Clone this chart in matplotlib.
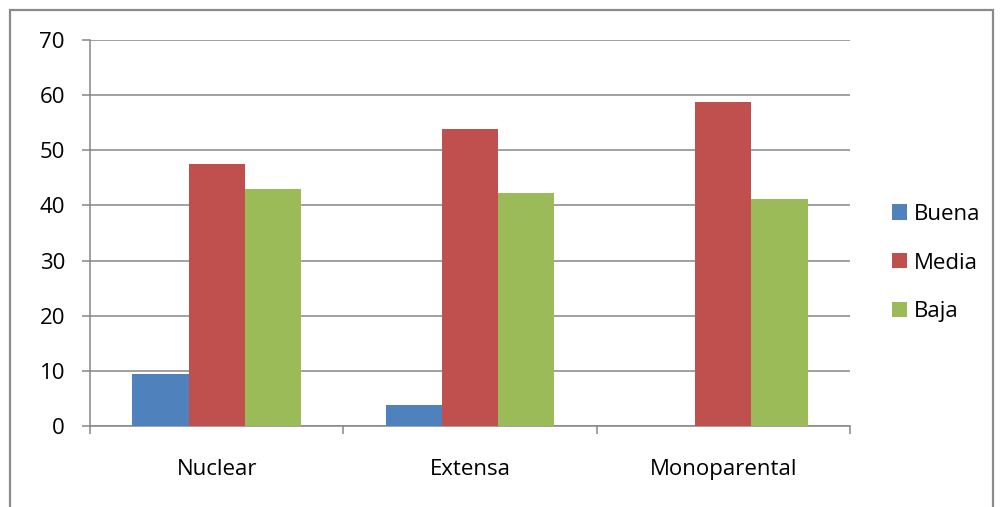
import numpy as np
import matplotlib.pyplot as plt
from matplotlib.patches import Rectangle

categories = ['Nuclear', 'Extensa', 'Monoparental']
series_names = ['Buena', 'Media', 'Baja']
buena = [9.5, 3.8, 0]
media = [47.6, 53.8, 58.8]
baja = [42.9, 42.3, 41.2]
colors = ['#4F81BD', '#C0504D', '#9BBB59']

plt.rcParams['font.family'] = ['Open Sans', 'DejaVu Sans']

fig = plt.figure(figsize=(10, 5.07), dpi=100)
ax = fig.add_axes([0.09, 0.1598, 0.76, 0.7613])

x = np.arange(len(categories))
w = 0.222
for i, (vals, name) in enumerate(zip([buena, media, baja], series_names)):
    ax.bar(x + (i - 1) * w, vals, w, color=colors[i], label=name, zorder=3)

ax.set_xlim(-0.5, 2.5)
ax.set_ylim(0, 70)
ax.set_yticks(range(0, 71, 10))
ax.yaxis.grid(True, color='#868686', linewidth=1.1, zorder=0)
ax.tick_params(axis='y', length=6, width=1.1, color='#868686', pad=12, labelsize=16)

ax.set_xticks(x)
ax.set_xticklabels(categories)
ax.tick_params(axis='x', which='major', length=0, pad=24, labelsize=16)
ax.set_xticks([-0.5, 0.5, 1.5, 2.5], minor=True)
ax.tick_params(axis='x', which='minor', length=6, width=1.1, color='#868686')

for s in ['top', 'right']:
    ax.spines[s].set_visible(False)
for s in ['left', 'bottom']:
    ax.spines[s].set_color('#868686')
    ax.spines[s].set_linewidth(1.1)

fig.legend(loc='center left', bbox_to_anchor=(0.881, 0.481), frameon=False,
           fontsize=16, handlelength=0.68, handleheight=0.68, handletextpad=0.32,
           labelspacing=1.25, borderpad=0)

fig.patches.append(Rectangle((0.01, -0.1), 0.983, 1.08, transform=fig.transFigure,
                             fill=False, edgecolor='#8a8a8a', linewidth=1.6))

fig.savefig('out.png', dpi=100)
